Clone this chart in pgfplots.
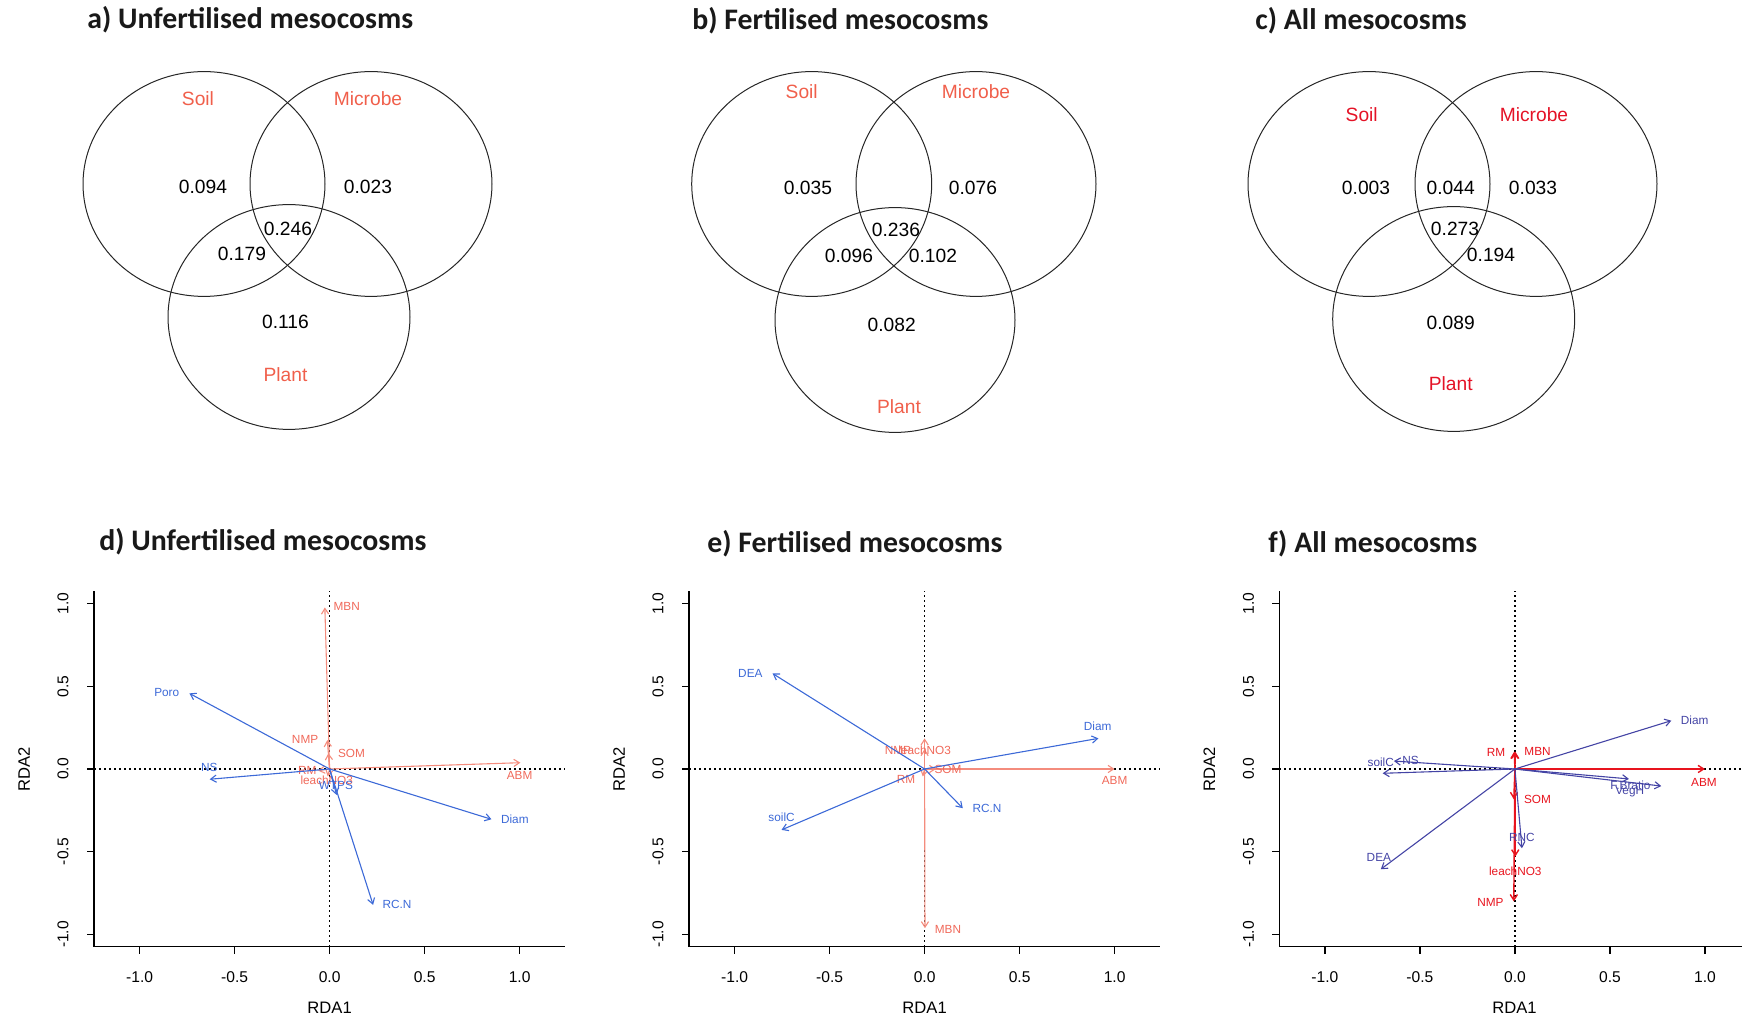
\documentclass[border=0pt]{standalone}
\usepackage{fontspec}
\setmainfont{Liberation Sans}
\newfontfamily\titlefont{Carlito}
\usepackage{pgfplots}
\pgfplotsset{compat=1.18}
\usetikzlibrary{arrows.meta}

\definecolor{dblue}{RGB}{60,105,215}
\definecolor{dred}{RGB}{244,140,125}
\definecolor{dredtxt}{RGB}{240,105,90}
\definecolor{fblue}{RGB}{68,68,165}
\definecolor{fred}{RGB}{232,20,30}
\definecolor{vsal}{RGB}{240,95,75}
\definecolor{vred}{RGB}{228,18,38}

\newcommand\vfont{\fontsize{9.6pt}{11pt}\selectfont}
\newcommand\afont{\fontsize{5.9pt}{7pt}\selectfont}
\newcommand\lfont{\fontsize{8.3pt}{10pt}\selectfont}
\newcommand\tfont{\titlefont\bfseries\fontsize{14.9pt}{17pt}\selectfont}

\tikzset{
 arr/.style={line width=0.55pt, -{Straight Barb[length=2.8pt,width=3.6pt]}},
 zl/.style={line width=0.6pt, black, dash pattern=on 0.9pt off 1.6pt},
 ttl/.style={anchor=west, inner sep=0pt, font=\tfont, text=black!90},
}
\pgfplotsset{
 rda/.style={
  scale only axis, width=235.6pt, height=177.9pt,
  xmin=-1.24, xmax=1.24, ymin=-1.075, ymax=1.075,
  axis lines*=left,
  axis line style={line width=0.6pt, black},
  tick align=outside, major tick length=3.5pt,
  tick style={line width=0.6pt, black},
  xtick={-1,-0.5,0,0.5,1}, xticklabels={-1.0,-0.5,0.0,0.5,1.0},
  ytick={-1,-0.5,0,0.5,1}, yticklabels={-1.0,-0.5,0.0,0.5,1.0},
  ticklabel style={font=\fontsize{7.8pt}{9pt}\selectfont},
  xticklabel style={anchor=north, inner sep=0pt},
  yticklabel style={rotate=90, anchor=south, inner sep=0pt},
  xticklabel shift=8.5pt, yticklabel shift=9pt,
  clip=false,
 },
}

\begin{document}
\begin{tikzpicture}
% ---------- hidden frame axis: Venn diagrams and titles (pixel coordinates) ----------
\begin{axis}[at={(0,0)}, anchor=south west, scale only axis, width=871pt, height=510.5pt,
  xmin=0, xmax=1742, ymin=0, ymax=1021, y dir=reverse, axis lines=none, clip=false]
 % titles
 \node[ttl] at (axis cs:87,20) {a) Unfertilised mesocosms};
 \node[ttl] at (axis cs:692,21) {b) Fertilised mesocosms};
 \node[ttl] at (axis cs:1255,21) {c) All mesocosms};
 \node[ttl] at (axis cs:99,542) {d) Unfertilised mesocosms};
 \node[ttl] at (axis cs:707,544) {e) Fertilised mesocosms};
 \node[ttl] at (axis cs:1268,544) {f) All mesocosms};
 % Venn a
 \draw[line width=0.5pt, black!85] (axis cs:204,184) ellipse [x radius=60.5pt, y radius=56.2pt];
 \draw[line width=0.5pt, black!85] (axis cs:371,184) ellipse [x radius=60.5pt, y radius=56.2pt];
 \draw[line width=0.5pt, black!85] (axis cs:289,317) ellipse [x radius=60.5pt, y radius=56.2pt];
 \node[font=\vfont, text=vsal] at (axis cs:198,99) {Soil};
 \node[font=\vfont, text=vsal] at (axis cs:368,99) {Microbe};
 \node[font=\vfont, text=vsal] at (axis cs:285.5,375) {Plant};
 \node[font=\vfont] at (axis cs:203,187) {0.094};
 \node[font=\vfont] at (axis cs:368,187) {0.023};
 \node[font=\vfont] at (axis cs:288,229) {0.246};
 \node[font=\vfont] at (axis cs:242,254) {0.179};
 \node[font=\vfont] at (axis cs:285.5,322) {0.116};
 % Venn b
 \draw[line width=0.5pt, black!85] (axis cs:811.7,184) ellipse [x radius=60pt, y radius=56.2pt];
 \draw[line width=0.5pt, black!85] (axis cs:976,184) ellipse [x radius=60pt, y radius=56.2pt];
 \draw[line width=0.5pt, black!85] (axis cs:895,320) ellipse [x radius=60pt, y radius=56.2pt];
 \node[font=\vfont, text=vsal] at (axis cs:801.7,91.7) {Soil};
 \node[font=\vfont, text=vsal] at (axis cs:976,91.7) {Microbe};
 \node[font=\vfont, text=vsal] at (axis cs:899,407) {Plant};
 \node[font=\vfont] at (axis cs:808,188) {0.035};
 \node[font=\vfont] at (axis cs:973,188) {0.076};
 \node[font=\vfont] at (axis cs:896,230) {0.236};
 \node[font=\vfont] at (axis cs:849,256) {0.096};
 \node[font=\vfont] at (axis cs:933,256) {0.102};
 \node[font=\vfont] at (axis cs:891.7,325) {0.082};
 % Venn c
 \draw[line width=0.5pt, black!85] (axis cs:1369,184) ellipse [x radius=60.5pt, y radius=56.2pt];
 \draw[line width=0.5pt, black!85] (axis cs:1536,184) ellipse [x radius=60.5pt, y radius=56.2pt];
 \draw[line width=0.5pt, black!85] (axis cs:1453.7,319) ellipse [x radius=60.5pt, y radius=56.2pt];
 \node[font=\vfont, text=vred] at (axis cs:1361.7,115) {Soil};
 \node[font=\vfont, text=vred] at (axis cs:1534,115) {Microbe};
 \node[font=\vfont, text=vred] at (axis cs:1450.7,384) {Plant};
 \node[font=\vfont] at (axis cs:1366,188) {0.003};
 \node[font=\vfont] at (axis cs:1450.7,188) {0.044};
 \node[font=\vfont] at (axis cs:1533,188) {0.033};
 \node[font=\vfont] at (axis cs:1455,229) {0.273};
 \node[font=\vfont] at (axis cs:1491,255) {0.194};
 \node[font=\vfont] at (axis cs:1450.7,323) {0.089};
\end{axis}

% ---------- d) Unfertilised ----------
\begin{axis}[rda, at={(47pt,37.05pt)}, anchor=south west]
 \draw[zl] (axis cs:-1.24,0) -- (axis cs:1.24,0);
 \draw[zl] (axis cs:0,-1.075) -- (axis cs:0,1.075);
 \addplot[arr, dred] coordinates {(0,0) (-0.025,0.976)};
 \addplot[arr, dred] coordinates {(0,0) (1.004,0.038)};
 \addplot[arr, dred] coordinates {(0,0) (-0.012,0.175)};
 \addplot[arr, dred] coordinates {(0,0) (-0.006,0.095)};
 \addplot[arr, dred] coordinates {(0,0) (-0.06,-0.01)};
 \addplot[arr, dred] coordinates {(0,0) (-0.01,-0.045)};
 \node[font=\afont, text=dredtxt] at (axis cs:0.09,0.98) {MBN};
 \node[font=\afont, text=dredtxt] at (axis cs:1.0,-0.042) {ABM};
 \node[font=\afont, text=dredtxt] at (axis cs:-0.129,0.181) {NMP};
 \node[font=\afont, text=dredtxt] at (axis cs:0.115,0.095) {SOM};
 \node[font=\afont, text=dredtxt] at (axis cs:-0.118,-0.006) {RM};
 \node[font=\afont, text=dredtxt] at (axis cs:-0.015,-0.066) {leachNO3};
 \addplot[arr, dblue] coordinates {(0,0) (-0.738,0.457)};
 \addplot[arr, dblue] coordinates {(0,0) (-0.631,-0.062)};
 \addplot[arr, dblue] coordinates {(0,0) (0.852,-0.304)};
 \addplot[arr, dblue] coordinates {(0,0) (0.229,-0.821)};
 \addplot[arr, dblue] coordinates {(0,0) (0.037,-0.157)};
 \node[font=\afont, text=dblue] at (axis cs:-0.857,0.46) {Poro};
 \node[font=\afont, text=dblue] at (axis cs:-0.633,0.01) {NS};
 \node[font=\afont, text=dblue] at (axis cs:0.975,-0.304) {Diam};
 \node[font=\afont, text=dblue] at (axis cs:0.355,-0.821) {RC.N};
 \node[font=\afont, text=dblue] at (axis cs:0.033,-0.099) {WTPS};
 \node[font=\lfont] at (axis description cs:0.5,-0.1715) {RDA1};
 \node[font=\lfont, rotate=90] at (axis description cs:-0.1486,0.5) {RDA2};
\end{axis}

% ---------- e) Fertilised ----------
\begin{axis}[rda, at={(344.5pt,37.05pt)}, anchor=south west]
 \draw[zl] (axis cs:-1.24,0) -- (axis cs:1.24,0);
 \draw[zl] (axis cs:0,-1.075) -- (axis cs:0,1.075);
 \addplot[arr, dred] coordinates {(0,0) (1.0,0.0)};
 \addplot[arr, dred] coordinates {(0,0) (0.002,-0.962)};
 \addplot[arr, dred] coordinates {(0,0) (0.0,0.185)};
 \addplot[arr, dred] coordinates {(0,0) (0.0,0.12)};
 \addplot[arr, dred] coordinates {(0,0) (0.06,0.0)};
 \addplot[arr, dred] coordinates {(0,0) (-0.01,-0.045)};
 \node[font=\afont, text=dredtxt] at (axis cs:1.0,-0.07) {ABM};
 \node[font=\afont, text=dredtxt] at (axis cs:0.123,-0.972) {MBN};
 \node[font=\afont, text=dredtxt] at (axis cs:-0.14,0.115) {NMP};
 \node[font=\afont, text=dredtxt] at (axis cs:0.0,0.115) {leachNO3};
 \node[font=\afont, text=dredtxt] at (axis cs:0.123,0.0) {SOM};
 \node[font=\afont, text=dredtxt] at (axis cs:-0.098,-0.062) {RM};
 \addplot[arr, dblue] coordinates {(0,0) (-0.80,0.577)};
 \addplot[arr, dblue] coordinates {(0,0) (0.915,0.185)};
 \addplot[arr, dblue] coordinates {(0,0) (-0.753,-0.368)};
 \addplot[arr, dblue] coordinates {(0,0) (0.201,-0.237)};
 \node[font=\afont, text=dblue] at (axis cs:-0.917,0.58) {DEA};
 \node[font=\afont, text=dblue] at (axis cs:0.911,0.26) {Diam};
 \node[font=\afont, text=dblue] at (axis cs:-0.753,-0.294) {soilC};
 \node[font=\afont, text=dblue] at (axis cs:0.328,-0.237) {RC.N};
 \node[font=\lfont] at (axis description cs:0.5,-0.1715) {RDA1};
 \node[font=\lfont, rotate=90] at (axis description cs:-0.1486,0.5) {RDA2};
\end{axis}

% ---------- f) All ----------
\begin{axis}[rda, width=231.35pt, xmax=1.195, at={(639.65pt,37.05pt)}, anchor=south west]
 \draw[zl] (axis cs:-1.24,0) -- (axis cs:1.195,0);
 \draw[zl] (axis cs:0,-1.075) -- (axis cs:0,1.075);
 \addplot[arr, fred, line width=0.7pt] coordinates {(0,0) (1.0,0.0)};
 \addplot[arr, fred, line width=0.7pt] coordinates {(0,0) (0.002,0.105)};
 \addplot[arr, fred, line width=0.7pt] coordinates {(0,0) (-0.004,0.105)};
 \addplot[arr, fred, line width=0.7pt] coordinates {(0,0) (-0.006,-0.183)};
 \addplot[arr, fred, line width=0.7pt] coordinates {(0,0) (0.002,-0.529)};
 \addplot[arr, fred, line width=0.7pt] coordinates {(0,0) (-0.006,-0.80)};
 \node[font=\afont, text=fred] at (axis cs:0.995,-0.08) {ABM};
 \node[font=\afont, text=fred] at (axis cs:0.119,0.109) {MBN};
 \node[font=\afont, text=fred] at (axis cs:-0.1,0.1) {RM};
 \node[font=\afont, text=fred] at (axis cs:0.119,-0.187) {SOM};
 \node[font=\afont, text=fred] at (axis cs:0.002,-0.616) {leachNO3};
 \node[font=\afont, text=fred] at (axis cs:-0.129,-0.807) {NMP};
 \addplot[arr, fblue] coordinates {(0,0) (0.823,0.292)};
 \addplot[arr, fblue] coordinates {(0,0) (-0.696,-0.026)};
 \addplot[arr, fblue] coordinates {(0,0) (-0.637,0.048)};
 \addplot[arr, fblue] coordinates {(0,0) (0.6,-0.06)};
 \addplot[arr, fblue] coordinates {(0,0) (0.77,-0.103)};
 \addplot[arr, fblue] coordinates {(0,0) (-0.706,-0.606)};
 \addplot[arr, fblue] coordinates {(0,0) (0.037,-0.479)};
 \node[font=\afont, text=fblue] at (axis cs:0.946,0.296) {Diam};
 \node[font=\afont, text=fblue] at (axis cs:-0.706,0.04) {soilC};
 \node[font=\afont, text=fblue] at (axis cs:-0.549,0.054) {NS};
 \node[font=\afont, text=fblue] at (axis cs:0.608,-0.097) {F.Bratio};
 \node[font=\afont, text=fblue] at (axis cs:0.604,-0.137) {VegH};
 \node[font=\afont, text=fblue] at (axis cs:-0.716,-0.533) {DEA};
 \node[font=\afont, text=fblue] at (axis cs:0.037,-0.414) {RNC};
 \node[font=\lfont] at (axis description cs:0.5083,-0.1715) {RDA1};
 \node[font=\lfont, rotate=90] at (axis description cs:-0.1513,0.5) {RDA2};
\end{axis}

\pgfresetboundingbox
\useasboundingbox (0,0) rectangle (871pt,510.5pt);
\end{tikzpicture}
\end{document}
